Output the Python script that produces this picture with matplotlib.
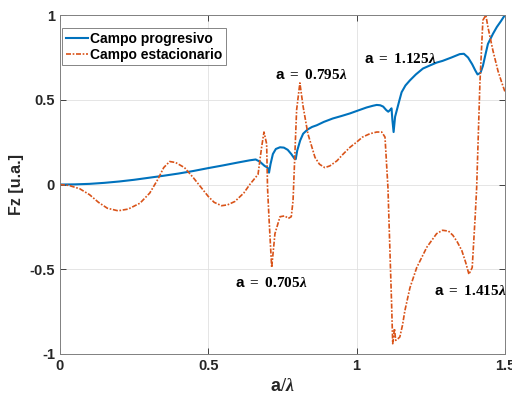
import matplotlib
matplotlib.use('Agg')
import matplotlib.pyplot as plt

# Campo progresivo
X_PROG = [0, 0.05, 0.1, 0.15, 0.2, 0.25, 0.3, 0.35, 0.4, 0.45, 0.5, 0.55, 0.6,
          0.64, 0.66, 0.674, 0.69, 0.70, 0.705, 0.71, 0.718, 0.728, 0.742,
          0.755, 0.768, 0.78, 0.79, 0.795, 0.80, 0.81, 0.82, 0.835, 0.85,
          0.866, 0.89, 0.92, 0.95, 0.978, 1.005, 1.034, 1.055, 1.068, 1.08,
          1.09, 1.1, 1.107, 1.113, 1.118, 1.121, 1.125, 1.13, 1.136, 1.145,
          1.152, 1.165, 1.18, 1.2, 1.224, 1.25, 1.27, 1.29, 1.32, 1.348,
          1.362, 1.376, 1.39, 1.40, 1.408, 1.418, 1.426, 1.435, 1.443, 1.46,
          1.473, 1.487, 1.5]
Y_PROG = [0, 0.001, 0.004, 0.01, 0.018, 0.028, 0.04, 0.052, 0.065, 0.08, 0.097,
          0.113, 0.13, 0.143, 0.148, 0.135, 0.11, 0.1, 0.07, 0.12, 0.18, 0.21,
          0.22, 0.218, 0.205, 0.18, 0.155, 0.15, 0.2, 0.26, 0.30, 0.325, 0.34,
          0.35, 0.37, 0.39, 0.405, 0.42, 0.437, 0.455, 0.465, 0.47, 0.468,
          0.46, 0.44, 0.43, 0.44, 0.45, 0.38, 0.31, 0.4, 0.44, 0.5, 0.545,
          0.585, 0.615, 0.65, 0.685, 0.705, 0.72, 0.73, 0.75, 0.77, 0.772,
          0.75, 0.71, 0.675, 0.65, 0.66, 0.70, 0.77, 0.83, 0.89, 0.93, 0.965,
          1.0]

# Campo estacionario
X_EST = [0, 0.03, 0.067, 0.1, 0.13, 0.16, 0.196, 0.23, 0.27, 0.303, 0.33,
         0.35, 0.37, 0.39, 0.42, 0.45, 0.475, 0.5, 0.52, 0.545, 0.565, 0.59,
         0.62, 0.64, 0.668, 0.68, 0.688, 0.697, 0.70, 0.705, 0.714, 0.725,
         0.742, 0.758, 0.77, 0.78, 0.786, 0.798, 0.809, 0.82, 0.836, 0.86,
         0.875, 0.893, 0.91, 0.934, 0.955, 0.978, 1.0, 1.02, 1.045, 1.068,
         1.085, 1.096, 1.106, 1.109, 1.118, 1.122, 1.128, 1.132, 1.14, 1.146,
         1.155, 1.163, 1.18, 1.203, 1.237, 1.27, 1.29, 1.31, 1.325, 1.34,
         1.355, 1.368, 1.379, 1.39, 1.40, 1.405, 1.416, 1.426, 1.436, 1.443,
         1.46, 1.477, 1.49, 1.5]
Y_EST = [0, -0.005, -0.025, -0.06, -0.105, -0.14, -0.155, -0.145, -0.11,
         -0.05, 0.03, 0.1, 0.136, 0.13, 0.1, 0.04, -0.015, -0.07, -0.105,
         -0.125, -0.12, -0.1, -0.05, 0.0, 0.06, 0.22, 0.31, 0.24, -0.02, -0.2,
         -0.49, -0.29, -0.19, -0.185, -0.2, -0.19, -0.095, 0.44, 0.6, 0.46,
         0.3, 0.16, 0.12, 0.1, 0.11, 0.14, 0.18, 0.22, 0.25, 0.28, 0.3, 0.31,
         0.31, 0.28, -0.02, -0.19, -0.69, -0.94, -0.85, -0.92, -0.91, -0.9,
         -0.83, -0.745, -0.61, -0.49, -0.37, -0.29, -0.27, -0.275, -0.3,
         -0.34, -0.39, -0.46, -0.53, -0.49, -0.19, -0.02, 0.6, 0.97, 1.0,
         0.93, 0.79, 0.67, 0.6, 0.55]

XTICKS = [0, 0.5, 1, 1.5]
YTICKS = [-1, -0.5, 0, 0.5, 1]

LABELS = [(0.725, 0.645, r'$\mathsf{a}\ =\ 0.795\lambda$'),
          (1.025, 0.74, r'$\mathsf{a}\ =\ 1.125\lambda$'),
          (0.59, -0.58, r'$\mathsf{a}\ =\ 0.705\lambda$'),
          (1.261, -0.627, r'$\mathsf{a}\ =\ 1.415\lambda$')]

plt.rcParams['font.family'] = 'Liberation Sans'
plt.rcParams['font.weight'] = 'bold'
plt.rcParams['mathtext.fontset'] = 'custom'
plt.rcParams['mathtext.rm'] = 'Liberation Serif:bold'
plt.rcParams['mathtext.it'] = 'Liberation Serif:bold:italic'
plt.rcParams['mathtext.sf'] = 'Liberation Sans:bold'

fig = plt.figure(figsize=(5.12, 3.99), dpi=100)
ax = fig.add_axes([0.117, 0.113, 0.869, 0.849])

ax.plot(X_PROG, Y_PROG, color='#0072BD', lw=1.5, label='Campo progresivo')
ax.plot(X_EST, Y_EST, color='#D95319', lw=1.2, dashes=(3, 1, 1, 1),
        label='Campo estacionario')

for x, y, s in LABELS:
    ax.text(x, y, s, fontsize=11, va='center', ha='left')

ax.set_xlim(0, 1.5)
ax.set_ylim(-1, 1)
ax.set_xticks(XTICKS)
ax.set_xticklabels(['0', '0.5', '1', '1.5'])
ax.set_yticks(YTICKS)
ax.set_yticklabels(['-1', '-0.5', '0', '0.5', '1'])
ax.tick_params(direction='in', length=4, labelsize=10.5, colors='0.15',
               top=True, right=True, width=0.6)
for lab in ax.get_xticklabels() + ax.get_yticklabels():
    lab.set_fontweight('bold')
for sp in ax.spines.values():
    sp.set_color('0.5')
    sp.set_linewidth(0.7)
ax.grid(True, color='0.88', lw=0.6)

ax.set_xlabel(r'$\mathsf{a}/\lambda$', fontsize=13, color='0.15')
ax.set_ylabel('Fz [u.a.]', fontsize=11.5, fontweight='bold', color='0.15')

leg = ax.legend(loc='upper left', bbox_to_anchor=(0.005, 0.962), fontsize=10,
                frameon=True, fancybox=False, edgecolor='0.4', borderpad=0.25,
                handlelength=1.6, handletextpad=0.15, labelspacing=0.15,
                borderaxespad=0.0)
leg.get_frame().set_linewidth(0.7)
for t in leg.get_texts():
    t.set_fontweight('bold')

fig.savefig('out.png', dpi=100)
